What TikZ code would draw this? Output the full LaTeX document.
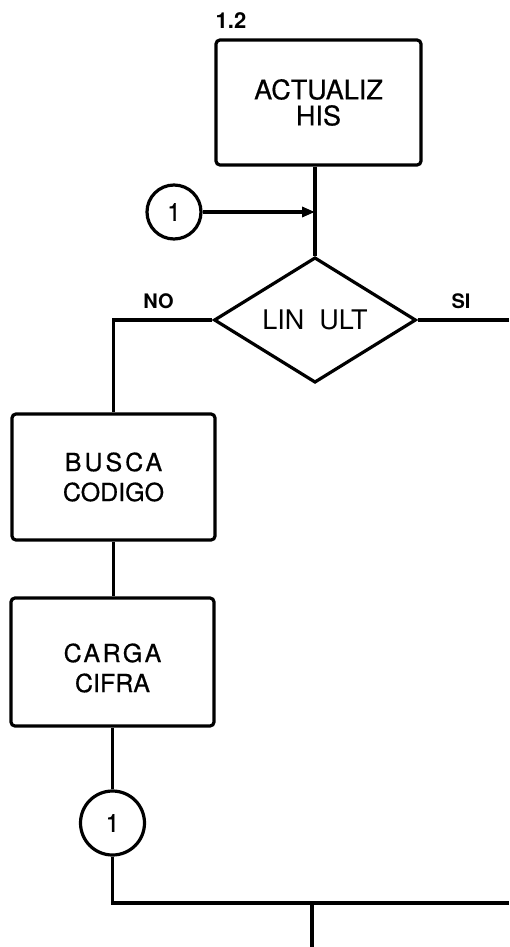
\documentclass[tikz,border=0pt]{standalone}
\usepackage{fontspec}
\setmainfont{TeX Gyre Heros}
\usetikzlibrary{shapes.geometric,arrows.meta}
\begin{document}
\begin{tikzpicture}[x=1pt,y=-1pt,
  procbox/.style={draw, line width=3.2pt, rectangle, rounded corners=4pt, inner sep=0pt, align=center,
    font=\fontsize{25}{30}\selectfont\addfontfeature{FakeBold=0.6}},
  boxtext/.style={inner sep=0pt, align=center,
    font=\fontsize{25}{30}\selectfont\addfontfeature{FakeBold=0.6}},
  decbox/.style={draw, line width=3.2pt, diamond, inner sep=0pt, minimum width=202pt, minimum height=125pt,
    font=\fontsize{27}{30}\selectfont},
  connbox/.style={draw, line width=3.2pt, circle, inner sep=0pt,
    font=\fontsize{25}{30}\selectfont\addfontfeature{FakeBold=0.6}},
  lbl/.style={inner sep=0pt, font=\bfseries\fontsize{20}{22}\selectfont},
  flow/.style={line width=3.2pt},
  flowarrow/.style={flow, -{Triangle[length=13pt,width=10pt]}},
  ]
\useasboundingbox (0,0) rectangle (509,947);

% label
\node[lbl, font=\bfseries\fontsize{22}{24}\selectfont] (num) at (231,20.5) {1.2};

% process boxes
\node[procbox, minimum width=205pt, minimum height=125pt,
      font=\fontsize{27}{26}\selectfont\addfontfeature{FakeBold=0.6}] (actualiz) at (318.5,102.5) {ACTUALIZ\\HIS};
\node[procbox, minimum width=203pt, minimum height=126pt] (busca) at (113.5,477)
  {{\addfontfeature{LetterSpace=12}BUSCA}\\CODIGO};
\node[procbox, minimum width=203pt, minimum height=128pt] (carga) at (112.5,662) {};
\node[boxtext] (cargatext) at ([yshift=-6pt]carga.center)
  {\addfontfeature{LetterSpace=10}CARGA\\CIFRA};

% decision
\node[decbox] (dia) at (315,320) {LIN\ \ ULT};

% connectors (circles)
\node[connbox, minimum size=54pt] (c1) at (174,212) {1};
\node[connbox, minimum size=64pt] (c2) at (112.5,823) {1};

% branch labels
\node[lbl] (no) at (158.5,301.5) {NO};
\node[lbl] (si) at (461,301.5) {SI};

% free ends
\coordinate (siend) at (509,320);
\coordinate (botend) at (509,903);
\coordinate (stubtop) at (312,903);
\coordinate (stubend) at (312,947);

% flow lines
\draw[flow] (dia.north |- actualiz.south) -- (dia.north);
\draw[flowarrow] (c1.east) -- (c1.east -| dia.north);
\draw[flow] (dia.west) -| (busca.north);
\draw[flow] (dia.east) -- (siend);
\draw[flow] (busca.south) -- (busca.south |- carga.north);
\draw[flow] (carga.south) -- (c2.north);
\draw[flow] (c2.south) |- (botend);
\draw[flow] (stubtop) -- (stubend);
\end{tikzpicture}
\end{document}
